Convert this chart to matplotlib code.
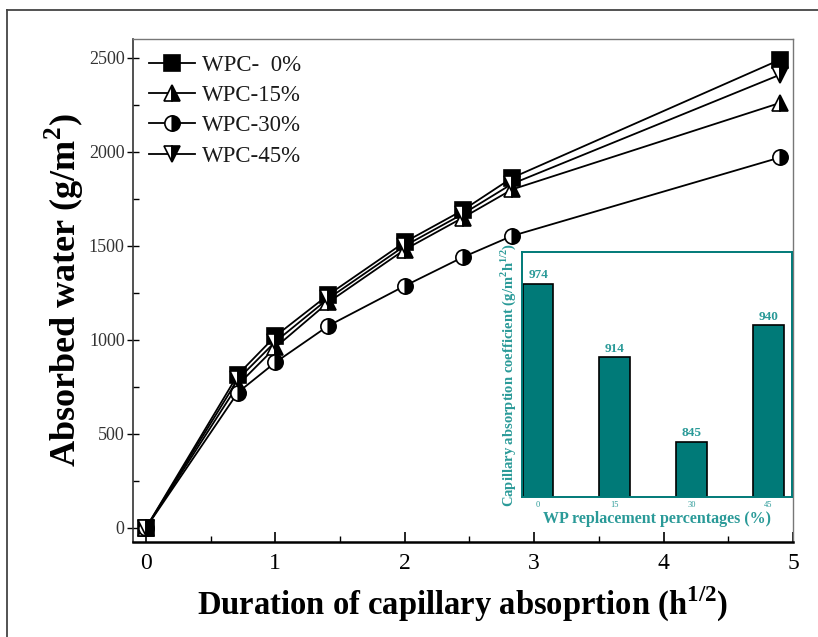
import numpy as np
import matplotlib
matplotlib.use("Agg")
import matplotlib.pyplot as plt
from matplotlib.lines import Line2D

plt.rcParams['font.family'] = ['Liberation Serif', 'DejaVu Serif']
plt.rcParams['mathtext.fontset'] = 'custom'
plt.rcParams['mathtext.rm'] = 'Liberation Serif'
plt.rcParams['mathtext.bf'] = 'Liberation Serif:bold'

# temps (racine des heures)
t = [0, 0.71, 1.0, 1.41, 2.0, 2.45, 2.83, 4.9]
wpc0 = [0, 815, 1020, 1240, 1520, 1690, 1862, 2490]
wpc15 = [0, 760, 960, 1200, 1480, 1650, 1800, 2260]
wpc30 = [0, 720, 880, 1075, 1287, 1440, 1553, 1970]
wpc45 = [0, 790, 990, 1220, 1500, 1670, 1830, 2410]
labels = ['WPC-  0%', 'WPC-15%', 'WPC-30%', 'WPC-45%']

# coefficients (encart)
wp = ['0', '15', '30', '45']
coef = [974, 914, 845, 940]

teal = '#007a78'
teal_txt = '#2a9a98'

fig = plt.figure(figsize=(8.18, 6.37), dpi=100)

# cadre de la figure
fig.add_artist(Line2D([7/818, 1], [1-10/637, 1-10/637], color='#444444', lw=1.3, transform=fig.transFigure))
fig.add_artist(Line2D([7/818, 7/818], [0, 1-10/637], color='#444444', lw=1.3, transform=fig.transFigure))

ax = fig.add_axes([0.1626, 0.1491, 0.8068, 0.7897])

series = [wpc0, wpc15, wpc30, wpc45]
styles = [dict(marker='s', mfc='black', fillstyle='full'),
          dict(marker='^', mfc='white', mfcalt='black', fillstyle='left'),
          dict(marker='o', mfc='white', mfcalt='black', fillstyle='left'),
          dict(marker='v', mfc='white', mfcalt='black', fillstyle='left')]
for y, lab, st in zip(series, labels, styles):
    ax.plot(t, y, color='black', lw=1.3, marker=st['marker'], markersize=11,
            markerfacecolor=st['mfc'], markerfacecoloralt=st.get('mfcalt', 'black'),
            fillstyle=st['fillstyle'], markeredgecolor='black', markeredgewidth=1.2,
            label=lab)

ax.set_xlim(-0.1, 5.0)
ax.set_ylim(-75, 2600)
ax.set_xticks([0, 1, 2, 3, 4, 5])
ax.set_xticks(np.arange(0, 5.01, 0.5), minor=True)
ax.set_yticks([0, 500, 1000, 1500, 2000, 2500])
ax.set_yticks(np.arange(0, 2600, 250), minor=True)
ax.tick_params(axis='x', which='major', direction='in', length=7, width=1.2, labelsize=17, pad=8)
ax.tick_params(axis='x', which='minor', direction='in', length=4, width=1.0)
ax.tick_params(axis='y', which='major', direction='inout', length=8, width=1.0, labelsize=13, labelcolor='#333333', pad=2)
ax.tick_params(axis='y', which='minor', direction='in', length=4, width=1.0)

for s in ['top', 'right']:
    ax.spines[s].set_color('#777777')
    ax.spines[s].set_linewidth(1.0)
ax.spines['left'].set_color('#333333')
ax.spines['left'].set_linewidth(1.2)
ax.spines['bottom'].set_color('black')
ax.spines['bottom'].set_linewidth(1.8)

ax.set_xlabel(r'Duration of capillary absoprtion (h$^{\mathbf{1/2}}$)', fontsize=23.5, fontweight='bold', labelpad=8)
ax.set_ylabel(r'Absorbed water (g/m$^{\mathbf{2}}$)', fontsize=26, fontweight='bold', labelpad=2)

leg = ax.legend(loc='upper left', frameon=False, fontsize=16.5, handlelength=2.0,
                handletextpad=0.3, labelspacing=0.4, borderaxespad=0.3,
                bbox_to_anchor=(0.0, 1.0))
for txt in leg.get_texts():
    txt.set_color('#1a1a1a')

# encart
ins = fig.add_axes([0.6381, 0.2198, 0.3301, 0.3846])
xpos = np.arange(len(wp))
bars = ins.bar(xpos, coef, width=0.4, color=teal, edgecolor='black', linewidth=1.2)
ins.set_xlim(-0.21, 3.31)
ins.set_ylim(800, 1000)
ins.set_yticks([])
ins.set_xticks(xpos)
ins.set_xticklabels(wp, fontsize=6, color=teal_txt)
ins.tick_params(axis='x', length=0, pad=3)
for s in ins.spines.values():
    s.set_color(teal)
    s.set_linewidth(1.4)
for x, v in zip(xpos, coef):
    ins.text(x, v + 2, str(v), ha='center', va='bottom', fontsize=9.5,
             fontweight='bold', color=teal_txt)
ins.set_xlabel('WP replacement percentages (%)', fontsize=11.5, fontweight='bold',
               color=teal_txt, labelpad=1)
ins.set_ylabel(r'Capillary absorption coefficient (g/m$^{\mathbf{2}}$h$^{\mathbf{1/2}}$)',
               fontsize=10.5, fontweight='bold', color=teal_txt, labelpad=3)

fig.savefig('out.png', dpi=100)
